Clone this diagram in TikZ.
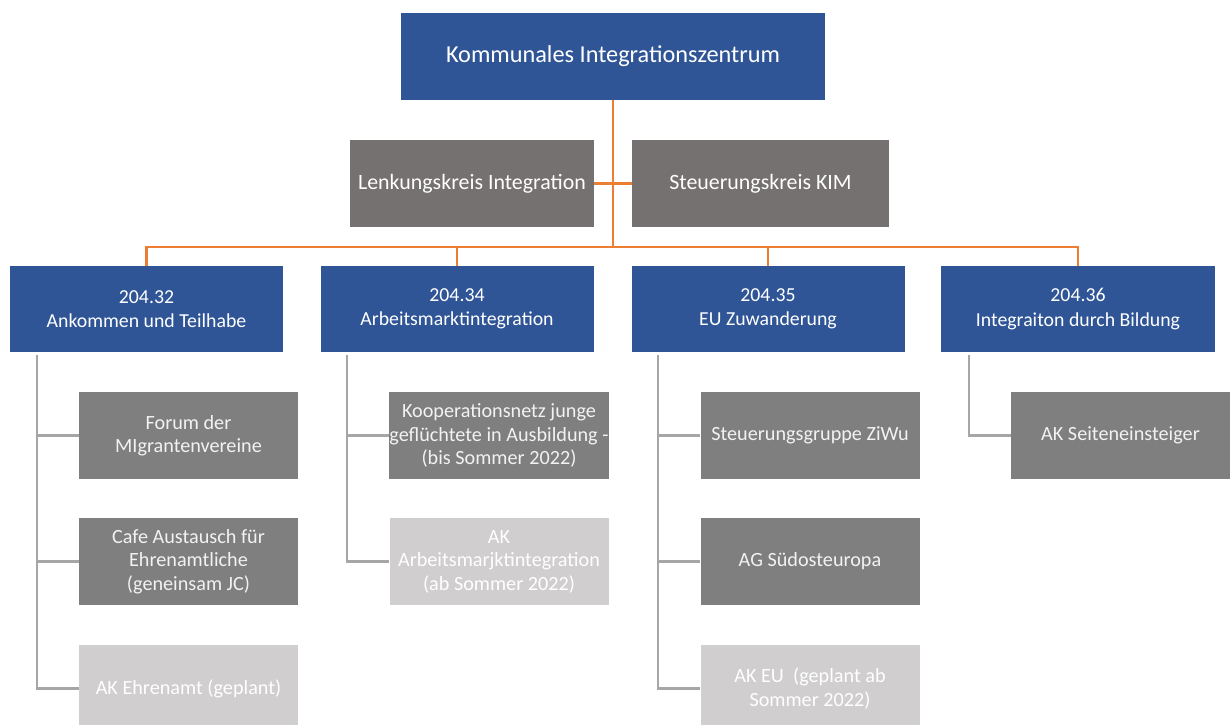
\documentclass[tikz,border=0pt]{standalone}
\usepackage{fontspec}
\setmainfont{Carlito}
\definecolor{kblue}{HTML}{2F5597}
\definecolor{kwarm}{HTML}{767171}
\definecolor{kdark}{HTML}{7F7F7F}
\definecolor{klight}{HTML}{D0CECE}
\definecolor{korange}{HTML}{ED7D31}
\definecolor{kline}{HTML}{A6A6A6}
\begin{document}
\begin{tikzpicture}[x=1pt,y=-1pt,
  box/.style={inner sep=0pt,align=center,text=white,minimum height=87pt},
  head/.style={box,fill=kblue,minimum width=424pt,font=\fontsize{24.3}{29}\selectfont},
  circle box/.style={box,fill=kwarm,font=\fontsize{21.9}{26}\selectfont},
  team/.style={box,fill=kblue,minimum width=273pt,minimum height=86pt,font=\fontsize{19.8}{24.5}\selectfont},
  group/.style={box,fill=kdark,minimum width=219pt,text=white!95!black,font=\fontsize{20.2}{23.5}\selectfont},
  planned/.style={group,fill=klight,text=white},
  orgline/.style={draw=korange,line width=2.2pt},
  subline/.style={draw=kline,line width=2.2pt}]
\useasboundingbox (0,0) rectangle (1232,725);
\node[head] (kiz) at (613,56.5) {Kommunales Integrationszentrum};
\node[circle box,minimum width=244pt] (lk) at (472,183.5) {Lenkungskreis Integration};
\node[circle box,minimum width=257pt] (sk) at (760.5,183.5) {Steuerungskreis KIM};
\node[team] (t1) at (146.5,309) {204.32\\Ankommen und Teilhabe};
\node[team] (t2) at (457,309) {204.34\\Arbeitsmarktintegration};
\node[team] (t3) at (768,309) {204.35\\EU Zuwanderung};
\node[team,minimum width=274pt] (t4) at (1078,309) {204.36\\Integraiton durch Bildung};
\node[group] (c11) at (188.5,435.5) {Forum der\\MIgrantenvereine};
\node[group] (c12) at (188.5,561.5) {Cafe Austausch für\\Ehrenamtliche\\(geneinsam JC)};
\node[planned] (c13) at (188.5,688.5) {AK Ehrenamt (geplant)};
\node[group] (c21) at (499,435.5) {Kooperationsnetz junge\\geflüchtete in Ausbildung -\\(bis Sommer 2022)};
\node[planned] (c22) at (499,561.5) {AK\\Arbeitsmarjktintegration\\(ab Sommer 2022)};
\node[group] (c31) at (810,435.5) {Steuerungsgruppe ZiWu};
\node[group] (c32) at (810,561.5) {AG Südosteuropa};
\node[planned] (c33) at (810,688.5) {AK EU~ (geplant ab\\Sommer 2022)};
\node[group] (c41) at (1120.5,435.5) {AK Seiteneinsteiger};
\coordinate (hub) at (613,247);
\draw[orgline] (kiz.south) -- (hub);
\draw[orgline] (lk.east) -- (sk.west);
\draw[orgline] (t1.north) |- (hub) -| (t4.north);
\draw[orgline] (t2.north) -- (t2.north |- hub);
\draw[orgline] (t3.north) -- (t3.north |- hub);
\coordinate (r1) at ([xshift=27pt,yshift=-3pt]t1.south west);
\coordinate (r2) at ([xshift=27pt,yshift=-3pt]t2.south west);
\coordinate (r3) at ([xshift=27pt,yshift=-3pt]t3.south west);
\coordinate (r4) at ([xshift=28pt,yshift=-3pt]t4.south west);
\draw[subline] (r1) |- (c11.west);
\draw[subline] (r1) |- (c12.west);
\draw[subline] (r1) |- (c13.west);
\draw[subline] (r2) |- (c21.west);
\draw[subline] (r2) |- (c22.west);
\draw[subline] (r3) |- (c31.west);
\draw[subline] (r3) |- (c32.west);
\draw[subline] (r3) |- (c33.west);
\draw[subline] (r4) |- (c41.west);
\end{tikzpicture}
\end{document}
